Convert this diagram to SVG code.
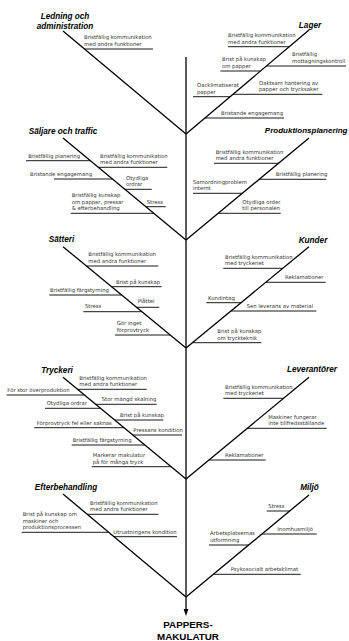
<svg xmlns="http://www.w3.org/2000/svg" width="349" height="641" viewBox="0 0 349 641">
<style>
.h{font-family:"Liberation Sans",Arial,sans-serif;font-weight:bold;font-style:italic;font-size:8.2px;fill:#000;text-anchor:middle}
.t{font-family:"DejaVu Sans","Liberation Sans",sans-serif;font-size:5.3px;fill:#333}
.r{stroke:#000;stroke-width:0.9;fill:none}
.b{stroke:#000;stroke-width:1.3;fill:none}
.e{font-family:"Liberation Sans",Arial,sans-serif;font-weight:bold;font-size:9.8px;fill:#000;text-anchor:middle}
</style>
<rect width="349" height="641" fill="#fff"/>
<g id="connectors">
<line class="b" x1="186" y1="57" x2="186" y2="610"/>
<polygon points="183.6,609 188.4,609 186,616" fill="#000"/>
<line class="b" x1="63" y1="31" x2="186" y2="134"/>
<line class="b" x1="309" y1="30" x2="186" y2="134"/>
<line class="b" x1="63" y1="138" x2="186" y2="240"/>
<line class="b" x1="309" y1="138" x2="186" y2="240"/>
<line class="b" x1="63" y1="246.7" x2="186" y2="348"/>
<line class="b" x1="309" y1="246.7" x2="186" y2="348"/>
<line class="b" x1="63" y1="377.3" x2="186" y2="479"/>
<line class="b" x1="309" y1="377.3" x2="186" y2="479"/>
<line class="b" x1="63" y1="494" x2="186" y2="597"/>
<line class="b" x1="309" y1="495" x2="186" y2="597"/>
</g>
<g id="effect">
<text class="e" x="188" y="628">PAPPERS-</text>
<text class="e" x="188" y="640">MAKULATUR</text>
</g>
<g id="ledning">
<text class="h" x="65" y="19">Ledning och</text>
<text class="h" x="65" y="29">administration</text>
<line class="r" x1="84.5" y1="49" x2="153" y2="49"/>
<text class="t" x="84" y="39.2">Bristfällig kommunikation<tspan x="84" dy="6.6">med andra funktioner</tspan></text>
</g>
<g id="lager">
<text class="h" x="310" y="28">Lager</text>
<line class="r" x1="228" y1="46.7" x2="289.2" y2="46.7"/>
<text class="t" x="228" y="36.9">Bristfällig kommunikation<tspan x="228" dy="6.6">med andra funktioner</tspan></text>
<line class="r" x1="266.4" y1="66" x2="346" y2="66"/>
<text class="t" x="292" y="56.2">Bristfällig<tspan x="292" dy="6.6">mottagningskontroll</tspan></text>
<line class="r" x1="220.5" y1="71" x2="260.5" y2="71"/>
<text class="t" x="222" y="61.2">Brist på kunskap<tspan x="222" dy="6.6">om papper</tspan></text>
<line class="r" x1="193" y1="96.7" x2="230.1" y2="96.7"/>
<text class="t" x="197" y="86.9">Oacklimatiserat<tspan x="197" dy="6.6">papper</tspan></text>
<line class="r" x1="232.9" y1="94.3" x2="322.3" y2="94.3"/>
<text class="t" x="259" y="84.5">Oaktsam hantering av<tspan x="259" dy="6.6">papper och trycksaker</tspan></text>
<line class="r" x1="204.9" y1="118" x2="284" y2="118"/>
<text class="t" x="221" y="114.8">Bristande engagemang</text>
</g>
<g id="saljare">
<text class="h" x="63" y="134">Säljare och traffic</text>
<line class="r" x1="26" y1="160.7" x2="90.4" y2="160.7"/>
<text class="t" x="28.3" y="157.5">Bristfällig planering</text>
<line class="r" x1="98.3" y1="167.3" x2="167.3" y2="167.3"/>
<text class="t" x="100" y="157.5">Bristfällig kommunikation<tspan x="100" dy="6.6">med andra funktioner</tspan></text>
<line class="r" x1="54" y1="179" x2="112.4" y2="179"/>
<text class="t" x="30" y="175.8">Bristande engagemang</text>
<line class="r" x1="124.9" y1="189.3" x2="151.7" y2="189.3"/>
<text class="t" x="126" y="179.5">Otydliga<tspan x="126" dy="6.6">ordrar</tspan></text>
<line class="r" x1="70.7" y1="213.3" x2="153.8" y2="213.3"/>
<text class="t" x="71.7" y="196.9">Bristfällig kunskap<tspan x="71.7" dy="6.6">om papper, pressar</tspan><tspan x="71.7" dy="6.6">&amp; efterbehandling</tspan></text>
<line class="r" x1="145.9" y1="206.7" x2="165.7" y2="206.7"/>
<text class="t" x="146.7" y="203.5">Stress</text>
</g>
<g id="produktionsplanering">
<text class="h" x="347.5" y="133" style="text-anchor:end;font-size:8px">Produktionsplanering</text>
<line class="r" x1="214" y1="163.3" x2="278.5" y2="163.3"/>
<text class="t" x="215.7" y="153.5">Bristfällig kommunikation<tspan x="215.7" dy="6.6">med andra funktioner</tspan></text>
<line class="r" x1="259.2" y1="179.3" x2="326.3" y2="179.3"/>
<text class="t" x="275.7" y="176.1">Bristfällig planering</text>
<line class="r" x1="193" y1="193.3" x2="242.3" y2="193.3"/>
<text class="t" x="193" y="183.5">Samordningproblem<tspan x="193" dy="6.6">internt</tspan></text>
<line class="r" x1="218.2" y1="213.3" x2="280.7" y2="213.3"/>
<text class="t" x="242.3" y="203.5">Otydliga order<tspan x="242.3" dy="6.6">till personalen</tspan></text>
</g>
<g id="satteri">
<text class="h" x="61.5" y="242">Sätteri</text>
<line class="r" x1="86.4" y1="266" x2="158.3" y2="266"/>
<text class="t" x="88.3" y="256.2">Bristfällig kommunikation<tspan x="88.3" dy="6.6">med andra funktioner</tspan></text>
<line class="r" x1="111.6" y1="286.7" x2="161.7" y2="286.7"/>
<text class="t" x="116" y="283.5">Brist på kunskap</text>
<line class="r" x1="49.3" y1="295" x2="121.6" y2="295"/>
<text class="t" x="50" y="291.8">Bristfällig färgstyrning</text>
<line class="r" x1="136.6" y1="307.3" x2="159.3" y2="307.3"/>
<text class="t" x="137.7" y="303">Plåttel</text>
<line class="r" x1="83.3" y1="311.7" x2="141.9" y2="311.7"/>
<text class="t" x="85" y="307.5">Stress</text>
<line class="r" x1="115" y1="335" x2="170.2" y2="335"/>
<text class="t" x="116.7" y="325.2">Gör inget<tspan x="116.7" dy="6.6">förprovtryck</tspan></text>
</g>
<g id="kunder">
<text class="h" x="313" y="243">Kunder</text>
<line class="r" x1="223.3" y1="268.3" x2="282.8" y2="268.3"/>
<text class="t" x="225" y="258.5">Bristfällig kommunikation<tspan x="225" dy="6.6">med tryckeriet</tspan></text>
<line class="r" x1="265.8" y1="282.3" x2="325.7" y2="282.3"/>
<text class="t" x="285" y="279.1">Reklamationer</text>
<line class="r" x1="206.3" y1="302.7" x2="241" y2="302.7"/>
<text class="t" x="208" y="299.5">Kundintag</text>
<line class="r" x1="230.9" y1="311" x2="316.3" y2="311"/>
<text class="t" x="246.7" y="307.8">Sen leverans av material</text>
<line class="r" x1="192.5" y1="342.7" x2="261.3" y2="342.7"/>
<text class="t" x="217.3" y="332.9">Brist på kunskap<tspan x="217.3" dy="6.6">om tryckteknik</tspan></text>
</g>
<g id="tryckeri">
<text class="h" x="57" y="373">Tryckeri</text>
<line class="r" x1="77.5" y1="389.3" x2="146.7" y2="389.3"/>
<text class="t" x="79.3" y="379.5">Bristfällig kommunikation<tspan x="79.3" dy="6.6">med andra funktioner</tspan></text>
<line class="r" x1="6.7" y1="395" x2="84.4" y2="395"/>
<text class="t" x="7.3" y="391.8">För stor överproduktion</text>
<line class="r" x1="95.6" y1="404.3" x2="156.7" y2="404.3"/>
<text class="t" x="101.7" y="401.1">Stor mängd skalning</text>
<line class="r" x1="45" y1="408.3" x2="100.5" y2="408.3"/>
<text class="t" x="46.7" y="405.1">Otydliga ordrar</text>
<line class="r" x1="114.6" y1="420" x2="163.3" y2="420"/>
<text class="t" x="120" y="416.8">Brist på kunskap</text>
<line class="r" x1="34.3" y1="427.7" x2="124" y2="427.7"/>
<text class="t" x="36.7" y="424.5">Förprovtryck fel eller saknas</text>
<line class="r" x1="132.8" y1="435" x2="182" y2="435"/>
<text class="t" x="133.3" y="431.8">Pressans kondition</text>
<line class="r" x1="71.7" y1="445" x2="144.8" y2="445"/>
<text class="t" x="72.7" y="441.8">Bristfällig färgstyrning</text>
<line class="r" x1="91.7" y1="466.7" x2="171.1" y2="466.7"/>
<text class="t" x="92.7" y="456.9">Markerar makulatur<tspan x="92.7" dy="6.6">på för många tryck</tspan></text>
</g>
<g id="leverantorer">
<text class="h" x="312" y="372">Leverantörer</text>
<line class="r" x1="223.3" y1="398.3" x2="283.6" y2="398.3"/>
<text class="t" x="225" y="388.5">Bristfällig kommunikation<tspan x="225" dy="6.6">med tryckeriet</tspan></text>
<line class="r" x1="247.3" y1="428.3" x2="326.7" y2="428.3"/>
<text class="t" x="268.3" y="418.5">Maskiner fungerar<tspan x="268.3" dy="6.6">inte tillfredsställande</tspan></text>
<line class="r" x1="209" y1="460" x2="265.7" y2="460"/>
<text class="t" x="225" y="456.8">Reklamationer</text>
</g>
<g id="efterbehandling">
<text class="h" x="66" y="490">Efterbehandling</text>
<line class="r" x1="87.1" y1="514.3" x2="158.3" y2="514.3"/>
<text class="t" x="90" y="504.5">Bristfällig kommunikation<tspan x="90" dy="6.6">med andra funktioner</tspan></text>
<line class="r" x1="21.7" y1="532.3" x2="108.5" y2="532.3"/>
<text class="t" x="22.7" y="515.9">Brist på kunskap om<tspan x="22.7" dy="6.6">maskiner och</tspan><tspan x="22.7" dy="6.6">produktionsprocessen</tspan></text>
<line class="r" x1="113.8" y1="536.7" x2="177" y2="536.7"/>
<text class="t" x="113.3" y="533.5">Utrustningens kondition</text>
</g>
<g id="miljo">
<text class="h" x="309.5" y="490">Miljö</text>
<line class="r" x1="266.7" y1="511" x2="289.7" y2="511"/>
<text class="t" x="268.3" y="507.8">Stress</text>
<line class="r" x1="262" y1="534" x2="316.7" y2="534"/>
<text class="t" x="277.3" y="530.8">Inomhusmiljö</text>
<line class="r" x1="209" y1="545" x2="248.7" y2="545"/>
<text class="t" x="210" y="535.2">Arbetsplatsernas<tspan x="210" dy="6.6">utformning</tspan></text>
<line class="r" x1="213.4" y1="574.3" x2="300.7" y2="574.3"/>
<text class="t" x="230.7" y="571.1">Psykosocialt arbetsklimat</text>
</g>
</svg>
